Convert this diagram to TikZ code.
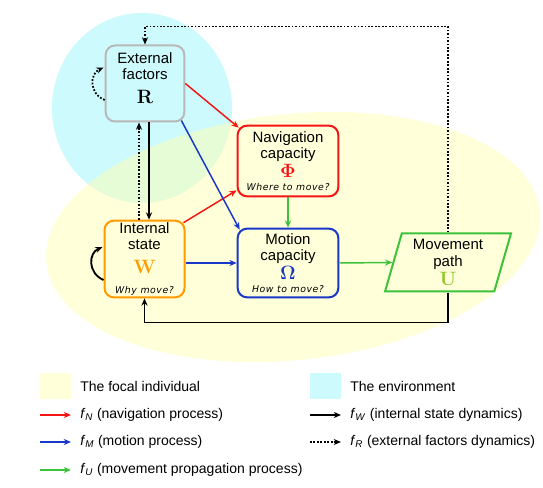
\documentclass[tikz,border=0pt]{standalone}
\usepackage[no-math]{fontspec}
\setsansfont{Liberation Sans}
\newfontfamily\qfont[LetterSpace=6, ItalicFont={DejaVu Sans Oblique}]{DejaVu Sans}
\usepackage{tikz}
\usetikzlibrary{calc}
\usetikzlibrary{positioning}
\usetikzlibrary{arrows.meta}
\usetikzlibrary{shapes.geometric}

\definecolor{navred}{RGB}{245,20,20}
\definecolor{motblue}{RGB}{25,55,200}
\definecolor{propgreen}{RGB}{60,195,60}
\definecolor{intorange}{RGB}{255,155,0}
\definecolor{extgray}{RGB}{185,185,185}
\definecolor{envcyan}{RGB}{205,250,252}
\definecolor{focalyellow}{RGB}{255,255,180}
\definecolor{moveU}{RGB}{140,200,40}

\newcommand\sym[1]{{\rmfamily\bfseries\fontsize{14.5}{14}\selectfont #1}}
\newcommand\ask[1]{{\qfont\itshape\fontsize{7}{8}\selectfont #1}}

\begin{document}
\begin{tikzpicture}
		[x=0.75pt, y=-0.75pt,
		font=\sffamily\fontsize{11.25}{12}\selectfont,
		>={Stealth[length=5.5pt,width=4.6pt]}
		]
		
		% Box and arrow styles
		\tikzstyle{box}=[draw, rounded corners=7pt, line width=1.5pt, align=center, inner sep=0pt]
		\tikzstyle{arr}=[->, line width=1.1pt]
		\tikzstyle{blackarr}=[->, line width=1.4pt]
		\tikzstyle{dotarr}=[->, line width=1.3pt, dash pattern=on 1.3pt off 1.3pt]
		\tikzstyle{focal}=[fill=focalyellow, fill opacity=0.5]
		\tikzstyle{legend}=[anchor=west, inner sep=0pt, font=\sffamily\fontsize{10.5}{12}\selectfont]
		
		\useasboundingbox (0,0) rectangle (543,488);
		
		% The environment and the focal individual
		\fill[envcyan] (142,108) ellipse [x radius=90, y radius=95];
		\fill[focal, rotate around={6:(293,237)}] (293,237) ellipse [x radius=248, y radius=123];
		
		% The boxes
		\node[box, draw=extgray, minimum width=59pt, minimum height=57pt] (ext) at (145,83.5)
			{External\\factors\\[6pt]\sym{R}\\[-4pt]\mbox{}};
		\node[box, draw=navred, minimum width=75.5pt, minimum height=53pt] (nav) at (288,161)
			{Navigation\\capacity\\[1pt]\sym{\color{navred}$\mathbf{\Phi}$}\\[-2pt]\ask{Where to move?}};
		\node[box, draw=motblue, minimum width=75.5pt, minimum height=51.5pt] (mot) at (288,263)
			{Motion\\capacity\\[1pt]\sym{\color{motblue}$\mathbf{\Omega}$}\\[-2pt]\ask{How to move?}};
		\node[box, draw=intorange, minimum width=60pt, minimum height=57.5pt] (int) at (144.5,259)
			{Internal\\state\\[6pt]\sym{\color{intorange}W}\\[3.4pt]\ask{Why move?}};
		\node[trapezium, trapezium left angle=75, trapezium right angle=105, trapezium stretches=true,
			draw=propgreen, line width=1.5pt, align=center, inner sep=0pt,
			minimum width=95pt, minimum height=43.5pt] (move) at (448,262.5)
			{Movement\\[0.75pt]path\\[1.5pt]\sym{\color{moveU}U}};
		
		% Navigation process
		\draw[arr, navred] (ext.east) -- ($(nav.north west)+(2,3)$);
		\draw[arr, navred] ($(int.north east)+(-2,3)$) -- ($(nav.south west)+(0,-7)$);
		% Motion process
		\draw[arr, motblue] ($(ext.south east)+(-4,-2)$) -- ($(mot.north west)+(3,2)$);
		\draw[arr, motblue] (int.east |- mot.west) -- (mot.west);
		% Movement propagation process
		\draw[arr, propgreen] (nav.south) -- (mot.north);
		\draw[arr, propgreen] (mot.east) -- (move.west);
		
		% Internal state dynamics
		\draw[blackarr] ($(ext.south)+(4,0)$) -- ($(int.north)+(4.5,0)$);
		\draw[blackarr] (move.center |- move.south) -- ++(0,30) -| (int.south);
		\draw[blackarr] ($(int.west)+(0,21)$) .. controls ($(int.west)+(-16,14)$) and ($(int.west)+(-15,-6)$) .. ($(int.west)+(-1,-12)$);
		
		% External factors dynamics
		\draw[dotarr] ($(int.north)+(-5.5,0)$) -- ($(ext.south)+(-6,0)$);
		\draw[dotarr] (move.center |- move.north) |- ($(ext.north)+(0,-18)$) -- (ext.north);
		\draw[dotarr] ($(ext.west)+(0,16.5)$) .. controls ($(ext.west)+(-16,10)$) and ($(ext.west)+(-15,-10)$) .. ($(ext.west)+(-1,-16)$);
		
		% Legend
		\fill[focal] (40,373) rectangle (71,399);
		\node[legend] (lfocal) at (80,386) {The focal individual};
		\fill[envcyan] (310,373) rectangle (341,399);
		\node[legend] (lenv) at (350,386) {The environment};
		
		\node[legend] (lnav) at (80,415) {\textit{f}\textsubscript{\textit{N}} (navigation process)};
		\node[legend] (lmot) at (80,442) {\textit{f}\textsubscript{\textit{M}} (motion process)};
		\node[legend] (lprop) at (80,470) {\textit{f}\textsubscript{\textit{U}} (movement propagation process)};
		\node[legend] (lint) at (350,415) {\textit{f}\textsubscript{\textit{W}} (internal state dynamics)};
		\node[legend] (lext) at (350,442) {\textit{f}\textsubscript{\textit{R}} (external factors dynamics)};
		
		\draw[arr, navred] ($(lnav.west)+(-40,0)$) -- ($(lnav.west)+(-9,0)$);
		\draw[arr, motblue] ($(lmot.west)+(-40,0)$) -- ($(lmot.west)+(-9,0)$);
		\draw[arr, propgreen] ($(lprop.west)+(-40,0)$) -- ($(lprop.west)+(-9,0)$);
		\draw[blackarr] ($(lint.west)+(-40,0)$) -- ($(lint.west)+(-9,0)$);
		\draw[dotarr] ($(lext.west)+(-40,0)$) -- ($(lext.west)+(-9,0)$);
		\end{tikzpicture}
\end{document}
